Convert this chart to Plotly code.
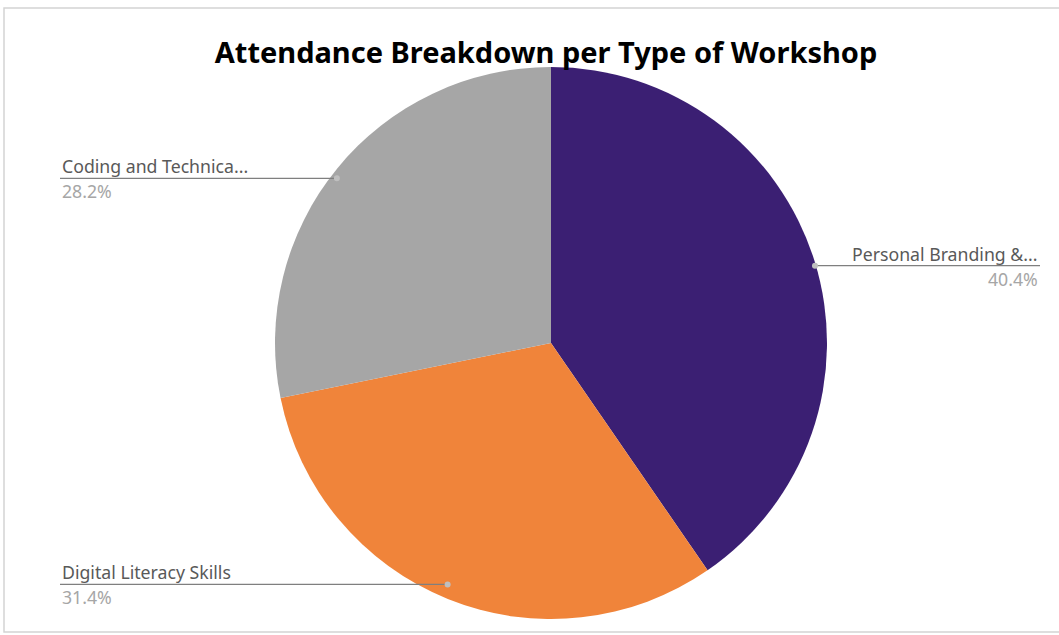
import math
import plotly.graph_objects as go

categories = ["Personal Branding &...", "Digital Literacy Skills", "Coding and Technica..."]
values = [40.4, 31.4, 28.2]
colors = ["#3b1f73", "#f0843a", "#a6a6a6"]

W, H = 1059, 635
cx, cy, R = 551, 343, 276
RX, RY = 291, 274  # apparent leader-point radii in the reference

fig = go.Figure(go.Pie(
    labels=categories, values=values, sort=False, direction="clockwise", rotation=0,
    marker=dict(colors=colors, line=dict(width=0)), textinfo="none", showlegend=False,
    domain=dict(x=[(cx - R) / W, (cx + R) / W], y=[1 - (cy + R) / H, 1 - (cy - R) / H]),
))

def px(x):
    return x / W

def py(y):
    return 1 - y / H

label_side = {"Personal Branding &...": ("right", 1040), "Digital Literacy Skills": ("left", 60),
              "Coding and Technica...": ("left", 60)}

shapes = []
annotations = []
total = sum(values)
start = 0.0
for cat, v in zip(categories, values):
    ang = (start + v / 2) / total * 2 * math.pi
    start += v
    dx = cx + 0.95 * RX * math.sin(ang)
    dy = cy - 0.95 * RY * math.cos(ang)
    side, tx = label_side[cat]
    shapes.append(dict(type="line", xref="paper", yref="paper", x0=px(dx), y0=py(dy), x1=px(tx), y1=py(dy),
                       line=dict(color="#7f7f7f", width=1.3)))
    shapes.append(dict(type="circle", xref="paper", yref="paper", x0=px(dx - 3), x1=px(dx + 3),
                       y0=py(dy + 3), y1=py(dy - 3), fillcolor="#bfbfbf", line=dict(width=0)))
    anchor = "right" if side == "right" else "left"
    annotations.append(dict(xref="paper", yref="paper", x=px(tx), y=py(dy + 2), xanchor=anchor, yanchor="bottom",
                            text=cat, showarrow=False, font=dict(family="Noto Sans", size=17.7, color="#595959")))
    annotations.append(dict(xref="paper", yref="paper", x=px(tx), y=py(dy - 1), xanchor=anchor, yanchor="top",
                            text=f"{v:.1f}%", showarrow=False, font=dict(family="Noto Sans", size=17.7, color="#a6a6a6")))

# outer frame
shapes.append(dict(type="rect", xref="paper", yref="paper", x0=px(4), x1=px(1065), y0=py(632), y1=py(8),
                   line=dict(color="#d4d4d4", width=1.5), layer="below"))

fig.update_layout(
    width=W, height=H, margin=dict(l=0, r=0, t=0, b=0),
    paper_bgcolor="white", plot_bgcolor="white",
    title=dict(text="<b>Attendance Breakdown per Type of Workshop</b>", x=px(546), xanchor="center",
               y=py(53), yanchor="middle", font=dict(family="Noto Sans", size=29, color="#000000")),
    shapes=shapes, annotations=annotations,
)

fig.write_html("out.html")
